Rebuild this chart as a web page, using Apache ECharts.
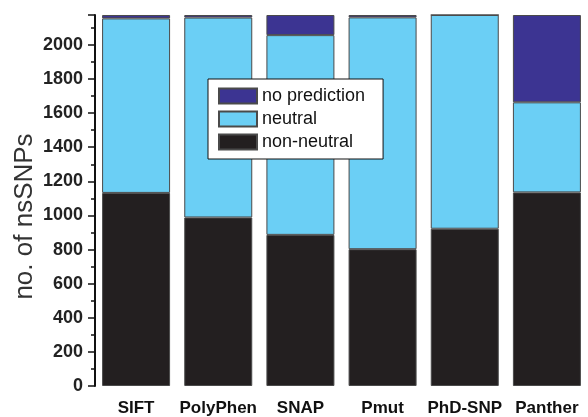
<!DOCTYPE html>
<html>
<head>
<meta charset="utf-8">
<script src="https://cdn.jsdelivr.net/npm/echarts@6/dist/echarts.min.js"></script>
<style>
  html, body { margin: 0; padding: 0; background: #fff; }
  #main { width: 588px; height: 417px; }
</style>
</head>
<body>
<div id="main"></div>
<script>
// 数据
const tools = ['SIFT', 'PolyPhen', 'SNAP', 'Pmut', 'PhD-SNP', 'Panther']
const nonNeutral = [1132, 988, 886, 802, 922, 1135]
const neutral = [1023, 1172, 1171, 1359, 1253, 528]
const noPrediction = [20, 15, 118, 14, 0, 512]

const myChart = echarts.init(document.getElementById('main'))

const barBorder = {
  borderColor: '#4a4a4a',
  borderWidth: 1
}

const option = {
  backgroundColor: '#fff',
  animation: false,
  textStyle: { fontFamily: 'Liberation Sans, Arial, sans-serif' },
  grid: {
    left: 95,
    top: 15,
    bottom: 31,
    width: 500
  },
  legend: {
    data: ['no prediction', 'neutral', 'non-neutral'],
    orient: 'vertical',
    icon: 'rect',
    left: 208,
    top: 79,
    padding: [8, 18, 8, 10],
    itemGap: 5,
    itemWidth: 38,
    itemHeight: 15,
    backgroundColor: '#fff',
    borderColor: '#111',
    borderWidth: 1,
    textStyle: { fontSize: 18, color: '#111' }
  },
  xAxis: {
    type: 'category',
    data: tools,
    axisLine: { show: false },
    axisTick: { show: false },
    axisLabel: {
      interval: 0,
      fontSize: 17,
      fontWeight: 'bold',
      color: '#111',
      margin: 14
    }
  },
  yAxis: {
    type: 'value',
    min: 0,
    max: 2175,
    interval: 200,
    name: 'no. of nsSNPs',
    nameLocation: 'middle',
    nameGap: 57,
    nameMoveOverlap: false,
    nameTextStyle: { fontSize: 26, color: '#333', padding: [0, 32, 0, 0] },
    axisLine: { show: true, lineStyle: { color: '#111', width: 2 } },
    axisTick: { show: true, length: 7, lineStyle: { color: '#111', width: 1.5 } },
    minorTick: { show: true, splitNumber: 2, length: 4, lineStyle: { color: '#111', width: 1.5 } },
    splitLine: { show: false },
    axisLabel: {
      fontSize: 18,
      fontWeight: 'bold',
      color: '#222',
      margin: 12,
      showMaxLabel: false,
      formatter: v => String(v)
    }
  },
  series: [
    {
      name: 'non-neutral',
      type: 'bar',
      stack: 'total',
      barWidth: 68,
      data: nonNeutral,
      itemStyle: Object.assign({ color: '#231f20' }, barBorder)
    },
    {
      name: 'neutral',
      type: 'bar',
      stack: 'total',
      barWidth: 68,
      data: neutral,
      itemStyle: Object.assign({ color: '#6bcff5' }, barBorder)
    },
    {
      name: 'no prediction',
      type: 'bar',
      stack: 'total',
      barWidth: 68,
      data: noPrediction,
      itemStyle: Object.assign({ color: '#3c3492' }, barBorder)
    }
  ]
}

myChart.setOption(option)
</script>
</body>
</html>
